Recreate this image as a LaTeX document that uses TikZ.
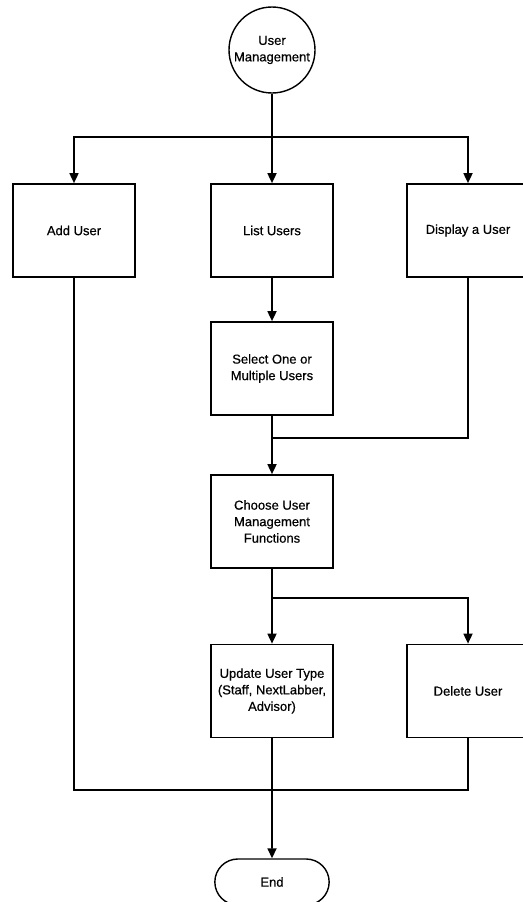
\documentclass[tikz,border=0pt]{standalone}
\usepackage{fontspec}
\newfontfamily\diafont{Liberation Sans}[FakeBold=0.5]
\usetikzlibrary{arrows.meta,shapes.misc}
\begin{document}
\begin{tikzpicture}[x=1pt,y=-1pt,
  every node/.style={font=\diafont\fontsize{13}{16.5}\selectfont, align=center},
  stepbox/.style={draw, line width=1.7pt, minimum width=122pt, minimum height=93pt, inner sep=2pt},
  startnode/.style={draw, circle, line width=1.4pt, minimum size=86pt, inner sep=0pt},
  endnode/.style={draw, rounded rectangle, line width=1.4pt, minimum width=121pt, minimum height=46pt},
  link/.style={line width=1.7pt},
  arr/.style={link, -{Triangle[width=9pt,length=10pt]}}]
\useasboundingbox (0,0) rectangle (522,902);
\fill[white] (0,0) rectangle (522,902);

% nodes
\node[startnode] (um) at (272,50) {User\\Management};
\node[stepbox] (add)  at (74,230.5)  {Add User};
\node[stepbox] (list) at (272,230.5) {List Users};
\node[stepbox] (disp) at (468,230.5) {Display a User};
\node[stepbox] (sel)  at (272,368.5) {Select One or\\Multiple Users};
\node[stepbox] (cho)  at (272,521.5) {Choose User\\Management\\Functions};
\node[stepbox] (upd)  at (272,691)   {Update User Type\\(Staff, NextLabber,\\Advisor)};
\node[stepbox] (del)  at (468,691)   {Delete User};
\node[endnode] (end)  at (272,882)   {End};

% junction points
\coordinate (j1) at (272,137);
\coordinate (j2) at (272,438);
\coordinate (j3) at (272,598);
\coordinate (j4) at (272,790);

% connectors
\draw[link] (um) -- (j1);
\draw[arr] (j1) -| (add);
\draw[arr] (j1) -- (list);
\draw[arr] (j1) -| (disp);
\draw[arr] (list) -- (sel);
\draw[link] (sel) -- (j2);
\draw[link] (disp) |- (j2);
\draw[arr] (j2) -- (cho);
\draw[link] (cho) -- (j3);
\draw[arr] (j3) -- (upd);
\draw[arr] (j3) -| (del);
\draw[link] (add) |- (j4);
\draw[link] (del) |- (j4);
\draw[link] (upd) -- (j4);
\draw[arr] (j4) -- (end);
\end{tikzpicture}
\end{document}
